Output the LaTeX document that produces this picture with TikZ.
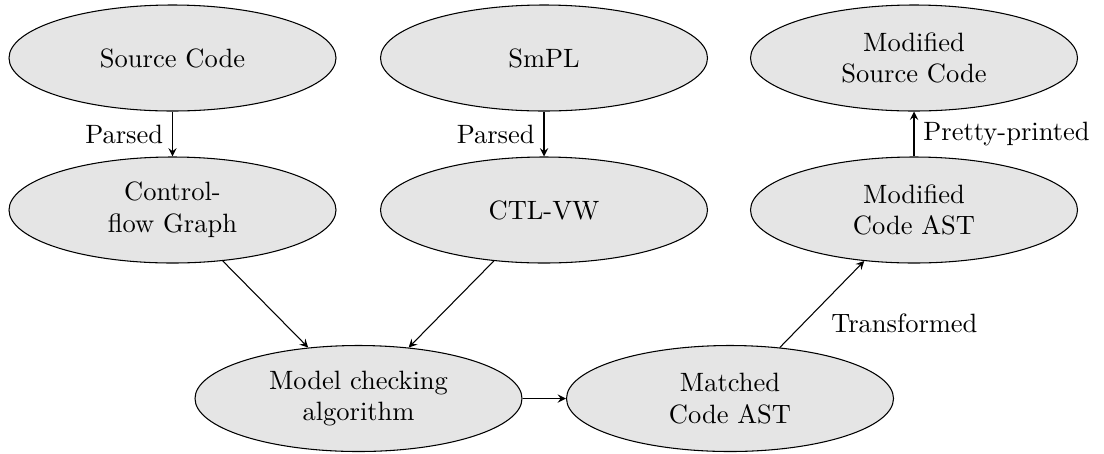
\documentclass[tikz,border=0pt]{standalone}
\usetikzlibrary{shapes.geometric}
\begin{document}
\begin{tikzpicture}[x=0.37736pt,y=-0.37736pt,
  proc/.style={ellipse,draw,fill=gray!20,minimum width=123.4pt,minimum height=40pt,align=center,inner sep=0pt},
  conn/.style={-stealth}]
\useasboundingbox (0,0) rectangle (1104,453);
\node[proc] (src) at (172.5,58) {Source Code};
\node[proc] (cfg) at (172.5,210) {Control-\\flow Graph};
\node[proc] (smpl) at (544,58) {SmPL};
\node[proc] (ctl) at (544,210) {CTL-VW};
\node[proc] (msrc) at (914,58) {Modified\\Source Code};
\node[proc] (mast) at (914,210) {Modified\\Code AST};
\node[proc] (mc) at (358.5,398.5) {Model checking\\algorithm};
\node[proc] (match) at (730,398.5) {Matched\\Code AST};
\draw[conn] (src) -- node[left] {Parsed} (cfg);
\draw[conn] (smpl) -- node[left] {Parsed} (ctl);
\draw[conn] (cfg) -- (mc);
\draw[conn] (ctl) -- (mc);
\draw[conn] (mc) -- (match);
\draw[conn] (match) -- node[below right] {Transformed} (mast);
\draw[conn] (mast) -- node[right] {Pretty-printed} (msrc);
\end{tikzpicture}
\end{document}
